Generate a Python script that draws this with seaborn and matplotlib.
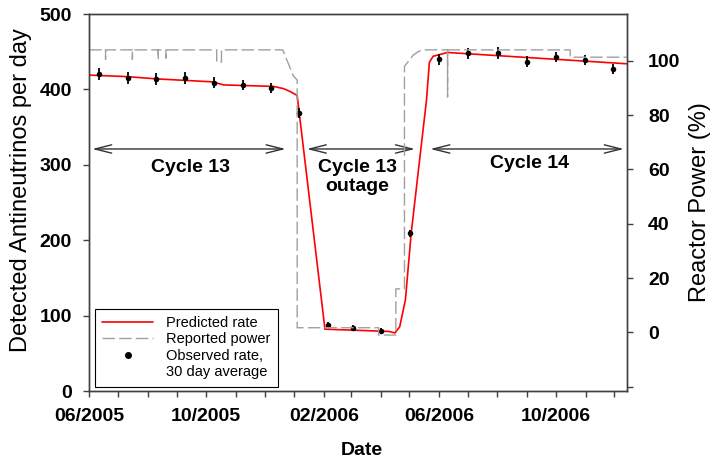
"""
Antineutrino rate vs. reactor power, cycle 13 / outage / cycle 14.
"""
import pandas as pd
import matplotlib
matplotlib.use("Agg")
import matplotlib.pyplot as plt
import matplotlib.dates as mdates
from matplotlib.lines import Line2D
import seaborn as sns

# predicted detector rate (antineutrinos per day)
pred_dates = ["2005-06-01", "2005-07-10", "2005-08-10", "2005-10-08", "2005-10-19",
              "2005-12-10", "2005-12-21", "2005-12-28", "2006-01-04", "2006-02-02",
              "2006-04-10", "2006-04-16", "2006-04-21", "2006-04-27", "2006-05-03",
              "2006-05-19", "2006-05-22", "2006-05-26", "2006-06-10", "2006-12-14"]
pred_rate = [419, 417, 414, 410, 406, 404, 401, 397, 392, 82,
             79, 77, 85, 121, 209, 386, 436, 444, 449, 434]

# reported reactor power (%)
power_dates = ["2005-06-01",
               "2005-06-18", "2005-06-18", "2005-06-18",
               "2005-07-16", "2005-07-16", "2005-07-16",
               "2005-08-12", "2005-08-12", "2005-08-12",
               "2005-08-20", "2005-08-20", "2005-08-20",
               "2005-10-12", "2005-10-12", "2005-10-17", "2005-10-17",
               "2005-12-20", "2005-12-31", "2006-01-04", "2006-01-04",
               "2006-03-30", "2006-03-30", "2006-04-17", "2006-04-17",
               "2006-04-26", "2006-04-26", "2006-04-30", "2006-05-05", "2006-05-10", "2006-05-15",
               "2006-06-10", "2006-06-10", "2006-06-10",
               "2006-10-16", "2006-10-16", "2006-12-14"]
power_pct = [104,
             104, 100.5, 104,
             104, 100.5, 104,
             104, 100.5, 104,
             104, 101, 104,
             104, 99.5, 99.5, 104,
             104, 94.4, 92.9, 1.7,
             1.7, -1, -1, 16,
             16, 98, 99.7, 102, 103.3, 104,
             104, 86.7, 104,
             104, 101.3, 101.3]

# observed rate, 30 day averages
obs_dates = ["2005-06-11", "2005-07-11", "2005-08-10", "2005-09-09", "2005-10-09",
             "2005-11-08", "2005-12-08", "2006-01-06", "2006-02-05", "2006-03-03",
             "2006-04-02", "2006-05-02", "2006-06-01", "2006-07-01", "2006-08-02",
             "2006-09-01", "2006-10-01", "2006-10-31", "2006-11-30"]
obs_rate = [420, 415, 414, 415, 409, 406, 402, 369, 88, 84,
            80, 209, 440, 448, 448, 437, 443, 439, 427]
obs_err = [8, 8, 8, 8, 7, 7, 7, 7, 4, 4,
           4, 5, 7, 7, 8, 7, 7, 7, 7]

# cycle periods
cycle_labels = ["Cycle 13", "Cycle 13\noutage", "Cycle 14"]
cycle_start = ["2005-06-04", "2006-01-14", "2006-05-23"]
cycle_end = ["2005-12-23", "2006-05-07", "2006-12-11"]
label_dates = ["2005-09-15", "2006-03-08", "2006-09-03"]
label_y = [297, 284, 302]
arrow_y = 321

sns.set_style("ticks")
plt.rcParams["font.family"] = ["Liberation Sans", "DejaVu Sans"]
plt.rcParams["font.weight"] = "bold"
plt.rcParams["text.color"] = "black"
plt.rcParams["axes.labelcolor"] = "black"
plt.rcParams["xtick.labelcolor"] = "black"
plt.rcParams["ytick.labelcolor"] = "black"

pred = pd.DataFrame({"date": pd.to_datetime(pred_dates), "rate": pred_rate})
power = pd.DataFrame({"date": pd.to_datetime(power_dates), "power": power_pct})
obs = pd.DataFrame({"date": pd.to_datetime(obs_dates), "rate": obs_rate, "err": obs_err})

fig, ax = plt.subplots(figsize=(7.16, 4.69), dpi=100)
fig.subplots_adjust(left=0.1247, right=0.8753, top=0.9701, bottom=0.1663)
ax2 = ax.twinx()

sns.lineplot(data=pred, x="date", y="rate", ax=ax, color="#ff0000", lw=1.2,
             estimator=None, sort=False)
ax.errorbar(obs["date"], obs["rate"], yerr=obs["err"], fmt="none", ecolor="black",
            elinewidth=1.3, capsize=0, zorder=4)
sns.scatterplot(data=obs, x="date", y="rate", ax=ax, color="black", s=16,
                linewidth=0, zorder=5)
sns.lineplot(data=power, x="date", y="power", ax=ax2, color="#a0a0a0", lw=1.0,
             linestyle=(0, (9, 3)), estimator=None, sort=False)

# axes ranges and ticks
ax.set_xlim(pd.Timestamp("2005-06-01"), pd.Timestamp("2006-12-14"))
ax.set_ylim(0, 500)
ax.set_yticks(range(0, 501, 100))
ax2.set_ylim(-21.6, 117.2)
ax2.set_yticks([-20, 0, 20, 40, 60, 80, 100])
ax2.set_yticklabels(["", "0", "20", "40", "60", "80", "100"])
ax.xaxis.set_major_locator(mdates.MonthLocator(bymonth=[2, 6, 10]))
ax.xaxis.set_minor_locator(mdates.MonthLocator())
ax.xaxis.set_major_formatter(mdates.DateFormatter("%m/%Y"))

for a in (ax, ax2):
    a.tick_params(which="both", direction="out", length=4.5, width=1,
                  color="#404040", labelsize=14, labelcolor="black")
    for sp in a.spines.values():
        sp.set_color("#404040")
        sp.set_linewidth(1)
ax.tick_params(axis="y", pad=8)
ax.tick_params(axis="x", pad=8)
ax2.tick_params(axis="y", pad=11)

ax.set_ylabel("Detected Antineutrinos per day", fontsize=17, fontweight="normal")
ax.yaxis.set_label_coords(-0.1066, 0.532)
ax2.set_ylabel("Reactor Power (%)", fontsize=17, fontweight="normal")
ax2.yaxis.set_label_coords(1.116, 0.5)
ax.set_xlabel("Date", fontsize=14, fontweight="bold")
ax.xaxis.set_label_coords(0.507, -0.134)

# cycle arrows and labels
for s, e in zip(cycle_start, cycle_end):
    ax.annotate("", xy=(mdates.date2num(pd.Timestamp(e)), arrow_y),
                xytext=(mdates.date2num(pd.Timestamp(s)), arrow_y),
                arrowprops=dict(arrowstyle="<->,head_length=0.6,head_width=0.15",
                                color="#333333", lw=1.0, shrinkA=0, shrinkB=0,
                                mutation_scale=20))
for lab, d, y in zip(cycle_labels, label_dates, label_y):
    ax.text(mdates.date2num(pd.Timestamp(d)), y, lab, ha="center", va="center",
            fontsize=14, fontweight="bold", linespacing=1.1)

# legend: second line of the observed label gets an empty handle so the dot
# sits next to the first line, as in the original
handles = [
    Line2D([], [], color="#ff0000", lw=1.2),
    Line2D([], [], color="#a0a0a0", lw=1.0, linestyle=(0, (9, 3))),
    Line2D([], [], color="black", marker="o", markersize=4, linestyle="none"),
    Line2D([], [], linestyle="none"),
]
labels = ["Predicted rate", "Reported power", "Observed rate,", "30 day average"]
leg = ax2.legend(handles, labels, loc="lower left", bbox_to_anchor=(0.0106, 0.0114),
                 borderaxespad=0, fancybox=False, framealpha=1, edgecolor="black",
                 prop={"size": 10.5, "weight": "normal"}, handlelength=3.5,
                 handletextpad=0.9, borderpad=0.5, labelspacing=0.17)
leg.get_frame().set_linewidth(0.8)

fig.savefig("out.png", dpi=100)
